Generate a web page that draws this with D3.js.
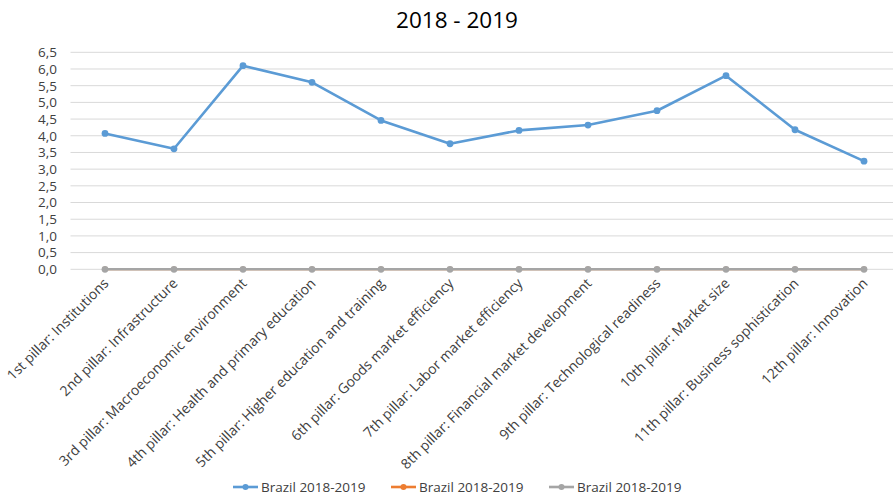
<!DOCTYPE html>
<html>
<head>
<meta charset="utf-8">
<script src="https://cdn.jsdelivr.net/npm/d3@7"></script>
<style>
  html, body { margin: 0; padding: 0; background: #fff; }
  svg { display: block; }
</style>
</head>
<body>
<svg id="chart" width="893" height="495"></svg>
<script>
// Global Competitiveness pillars, Brazil 2018-2019
const categories = [
  "1st pillar: Institutions",
  "2nd pillar: Infrastructure",
  "3rd pillar: Macroeconomic environment",
  "4th pillar: Health and primary education",
  "5th pillar: Higher education and training",
  "6th pillar: Goods market efficiency",
  "7th pillar: Labor market efficiency",
  "8th pillar: Financial market development",
  "9th pillar: Technological readiness",
  "10th pillar: Market size",
  "11th pillar: Business sophistication",
  "12th pillar: Innovation"
];
const seriesA = [4.07, 3.61, 6.10, 5.60, 4.46, 3.76, 4.16, 4.32, 4.75, 5.80, 4.18, 3.24];
const seriesB = [0, 0, 0, 0, 0, 0, 0, 0, 0, 0, 0, 0];
const seriesC = [0, 0, 0, 0, 0, 0, 0, 0, 0, 0, 0, 0];
const seriesNames = ["Brazil 2018-2019", "Brazil 2018-2019", "Brazil 2018-2019"];
const seriesColors = ["#5b9bd5", "#ed7d31", "#a5a5a5"];
const yTicks = [0, 0.5, 1, 1.5, 2, 2.5, 3, 3.5, 4, 4.5, 5, 5.5, 6, 6.5];
const chartTitle = "2018 - 2019";

const font = "'Open Sans', 'Liberation Sans', sans-serif";
const svg = d3.select("#chart");

const x = d3.scalePoint().domain(categories).range([105, 864]);
const y = d3.scaleLinear().domain([0, 6.5]).range([269.3, 52.3]);
const gridLeft = 70.5, gridRight = 893;

// title
svg.append("text")
  .attr("x", 457).attr("y", 28)
  .attr("text-anchor", "middle")
  .style("font-family", font).style("font-size", "22.5px").style("fill", "#000")
  .text(chartTitle);

// horizontal gridlines
svg.append("g").selectAll("line").data(yTicks.slice(1)).join("line")
  .attr("x1", gridLeft).attr("x2", gridRight)
  .attr("y1", d => y(d)).attr("y2", d => y(d))
  .attr("stroke", "#d9d9d9").attr("stroke-width", 1);

// y axis labels
const yAxis = d3.axisLeft(y).tickValues(yTicks)
  .tickFormat(d => d3.format(".1f")(d).replace(".", ","))
  .tickSize(0).tickPadding(0);
const gy = svg.append("g").attr("transform", "translate(57,0)").call(yAxis);
gy.select(".domain").remove();
gy.selectAll("text")
  .style("font-family", font).style("font-size", "13.5px").style("fill", "#404040");

// baseline
svg.append("line")
  .attr("x1", gridLeft).attr("x2", gridRight)
  .attr("y1", y(0)).attr("y2", y(0))
  .attr("stroke", "#d9d9d9").attr("stroke-width", 1);

// x axis labels, rotated
const xAxis = d3.axisBottom(x).tickSize(0).tickPadding(0);
const gx = svg.append("g").attr("transform", `translate(0,${y(0)})`).call(xAxis);
gx.select(".domain").remove();
gx.selectAll("text")
  .attr("text-anchor", "end")
  .attr("dy", 0)
  .attr("transform", "translate(4,15) rotate(-45)")
  .style("font-family", font).style("font-size", "14px").style("fill", "#404040");

// series lines and markers (orange first, grey drawn over it, blue on top)
const allSeries = [seriesB, seriesC, seriesA];
const drawColors = [seriesColors[1], seriesColors[2], seriesColors[0]];
const drawWidths = [2.0, 2.6, 2.6];
const drawRadii = [2.8, 3.4, 3.4];
const line = d3.line().x((d, i) => x(categories[i])).y(d => y(d));
allSeries.forEach((s, k) => {
  svg.append("path").datum(s)
    .attr("d", line).attr("fill", "none")
    .attr("stroke", drawColors[k]).attr("stroke-width", drawWidths[k])
    .attr("stroke-linejoin", "round");
  svg.append("g").selectAll("circle").data(s).join("circle")
    .attr("cx", (d, i) => x(categories[i])).attr("cy", d => y(d))
    .attr("r", drawRadii[k]).attr("fill", drawColors[k]);
});

// legend
const legendX = [233, 391, 549];
const legend = svg.append("g");
seriesNames.forEach((name, i) => {
  const g = legend.append("g").attr("transform", `translate(${legendX[i]},487)`);
  g.append("line").attr("x1", 0).attr("x2", 25).attr("y1", 0).attr("y2", 0)
    .attr("stroke", seriesColors[i]).attr("stroke-width", 2.6);
  g.append("circle").attr("cx", 12.5).attr("cy", 0).attr("r", 3).attr("fill", seriesColors[i]);
  g.append("text").attr("x", 28).attr("y", 4.5)
    .style("font-family", font).style("font-size", "13.5px").style("fill", "#404040")
    .text(name);
});
</script>
</body>
</html>
